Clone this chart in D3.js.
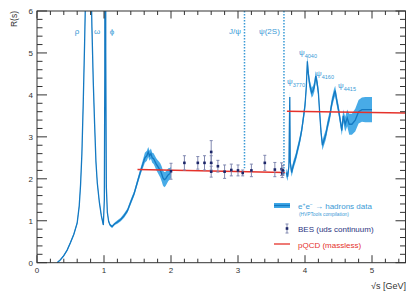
<!DOCTYPE html>
<html><head><meta charset="utf-8">
<script src="https://cdn.jsdelivr.net/npm/d3@7"></script>
<style>body{margin:0;background:#fff}svg{display:block;font-family:"Liberation Sans",Arial,sans-serif}</style>
</head><body><svg id="c" width="415" height="299"></svg>
<script>
// ---- data ----
const lowE = [0.30,0.35,0.40,0.45,0.50,0.55,0.60,0.63,0.65,0.67,0.69,0.71,0.73,0.755,0.775,0.782,0.79,0.80,0.82,0.84,0.86,0.88,0.90,0.93,0.96,0.99,1.005,1.012,1.019,1.026,1.035,1.05,1.07,1.09,1.12,1.16,1.20,1.25,1.30,1.35,1.40,1.45,1.50,1.55,1.58,1.61,1.64,1.66,1.68,1.70,1.72,1.74,1.76,1.78,1.80,1.82,1.84,1.86,1.88,1.90,1.92,1.94,1.96,1.98,2.00];
const lowR = [0.00,0.07,0.17,0.30,0.48,0.68,0.95,1.35,1.85,2.6,3.8,5.2,6.8,8.5,9.5,12,8.5,7.2,5.6,4.3,3.3,2.4,1.9,1.45,1.12,0.90,1.5,4.5,30,5,1.8,1.2,0.98,0.90,0.86,0.93,0.97,1.03,1.12,1.24,1.45,1.65,1.93,2.2,2.35,2.5,2.55,2.64,2.55,2.6,2.5,2.48,2.42,2.35,2.3,2.25,2.2,2.12,2.02,1.98,2.0,2.05,2.1,2.12,2.15];
const lowErr = [0.01,0.01,0.02,0.02,0.03,0.03,0.04,0.05,0.06,0.08,0.1,0.12,0.15,0.2,0.2,0.3,0.2,0.15,0.12,0.1,0.08,0.06,0.05,0.04,0.03,0.03,0.05,0.1,0.5,0.1,0.05,0.03,0.03,0.03,0.03,0.03,0.04,0.04,0.05,0.05,0.06,0.06,0.07,0.08,0.1,0.12,0.12,0.12,0.12,0.12,0.12,0.13,0.13,0.14,0.15,0.16,0.17,0.18,0.18,0.18,0.17,0.16,0.15,0.14,0.13];

const charmE = [3.72,3.74,3.76,3.765,3.773,3.78,3.80,3.83,3.86,3.89,3.92,3.95,3.98,4.00,4.02,4.035,4.05,4.07,4.10,4.12,4.14,4.16,4.18,4.20,4.22,4.24,4.26,4.28,4.31,4.34,4.37,4.40,4.43,4.45,4.47,4.50,4.53,4.55,4.57,4.60,4.63,4.66,4.70,4.75,4.80,4.85,4.90,5.00];
const charmR = [2.15,2.05,2.3,3.0,3.95,2.4,2.15,2.35,2.5,2.7,2.9,3.15,3.5,3.75,4.2,4.8,4.5,4.25,4.05,4.1,4.2,4.45,4.3,4.05,3.55,3.1,2.8,2.9,3.05,3.3,3.5,3.8,4.0,4.1,3.9,3.65,3.35,3.15,3.5,3.3,3.45,3.3,3.3,3.4,3.6,3.65,3.65,3.65];
const charmErr = [0.1,0.1,0.1,0.12,0.15,0.1,0.1,0.1,0.1,0.1,0.1,0.1,0.12,0.12,0.12,0.15,0.13,0.12,0.12,0.12,0.12,0.12,0.12,0.12,0.12,0.12,0.12,0.12,0.12,0.12,0.12,0.12,0.12,0.12,0.12,0.12,0.12,0.12,0.15,0.18,0.2,0.25,0.25,0.27,0.28,0.29,0.3,0.3];

const besE = [2.0,2.2,2.4,2.5,2.6,2.6,2.6,2.7,2.8,2.9,3.0,3.07,3.2,3.4,3.55,3.65,3.66,3.67];
const besR = [2.18,2.38,2.38,2.38,2.64,2.38,2.17,2.30,2.17,2.21,2.20,2.14,2.20,2.38,2.22,2.23,2.13,2.20];
const besErr = [0.19,0.17,0.15,0.17,0.27,0.17,0.13,0.14,0.16,0.14,0.13,0.07,0.15,0.18,0.17,0.15,0.1,0.12];

const pqcd1E = [1.5,3.7], pqcd1R = [2.22,2.15];
const pqcd2E = [3.73,5.5], pqcd2R = [3.61,3.57];

const resLow = [{t:"ρ",x:0.60},{t:"ω",x:0.89},{t:"ϕ",x:1.12}];
const xTicks = [0,1,2,3,4,5];
const yTicks = [0,1,2,3,4,5,6];

// ---- layout ----
const svg = d3.select("#c");
const L=37,R=405.5,T=11,B=262.7;
const x = d3.scaleLinear().domain([0,5.5]).range([L,R]);
const y = d3.scaleLinear().domain([0,6]).range([B,T]);
const blue="#1479c2", band="#3ea6e6", lbl="#3a9ad6", navy="#1d2668", red="#e5322b";

svg.append("clipPath").attr("id","cp").append("rect").attr("x",L).attr("y",T).attr("width",R-L).attr("height",B-T);
const g = svg.append("g").attr("clip-path","url(#cp)");

function drawBand(E,Rv,Er){
  const d = E.map((e,i)=>({e,r:Rv[i],s:Er[i]}));
  g.append("path").datum(d).attr("fill",band).attr("opacity",0.95)
   .attr("d",d3.area().x(p=>x(p.e)).y0(p=>y(p.r-p.s)).y1(p=>y(p.r+p.s)));
  g.append("path").datum(d).attr("fill","none").attr("stroke",blue).attr("stroke-width",1.3)
   .attr("d",d3.line().x(p=>x(p.e)).y(p=>y(p.r)));
}
drawBand(lowE,lowR,lowErr);
drawBand(charmE,charmR,charmErr);

// dotted resonance lines
[[3.097,2.25],[3.686,2.1]].forEach(([e,r])=>{
  svg.append("line").attr("x1",x(e)).attr("x2",x(e)).attr("y1",y(6)).attr("y2",y(r))
   .attr("stroke",lbl).attr("stroke-width",1.5).attr("stroke-dasharray","1.5,1.5");
});

// pQCD
[[pqcd1E,pqcd1R],[pqcd2E,pqcd2R]].forEach(([E,Rv])=>{
  g.append("path").datum(E.map((e,i)=>[e,Rv[i]])).attr("fill","none").attr("stroke",red).attr("stroke-width",1.6)
   .attr("d",d3.line().x(p=>x(p[0])).y(p=>y(p[1])));
});

// BES points
besE.forEach((e,i)=>{
  const cx=x(e), r=besR[i], s=besErr[i];
  svg.append("line").attr("x1",cx).attr("x2",cx).attr("y1",y(r-s)).attr("y2",y(r+s)).attr("stroke","#8088b0").attr("stroke-width",1);
  [r-s,r+s].forEach(v=>svg.append("line").attr("x1",cx-1.5).attr("x2",cx+1.5).attr("y1",y(v)).attr("y2",y(v)).attr("stroke","#8088b0").attr("stroke-width",1));
  svg.append("rect").attr("x",cx-1.3).attr("y",y(r)-1.3).attr("width",2.6).attr("height",2.6).attr("fill",navy);
});

// axes frame + ticks
svg.append("rect").attr("x",L).attr("y",T).attr("width",R-L).attr("height",B-T).attr("fill","none").attr("stroke","#333").attr("stroke-width",1);
const ax = svg.append("g").attr("stroke","#333").attr("stroke-width",1);
d3.range(0,5.5001,0.2).forEach(v=>{
  const major = Math.abs(v-Math.round(v))<1e-6, len = major?7.5:4, px=x(v);
  ax.append("line").attr("x1",px).attr("x2",px).attr("y1",B).attr("y2",B-len);
  ax.append("line").attr("x1",px).attr("x2",px).attr("y1",T).attr("y2",T+len);
});
d3.range(0,6.0001,0.2).forEach(v=>{
  const major = Math.abs(v-Math.round(v))<1e-6, len = major?10:5.5, py=y(v);
  ax.append("line").attr("x1",L).attr("x2",L+len).attr("y1",py).attr("y2",py);
  ax.append("line").attr("x1",R).attr("x2",R-len).attr("y1",py).attr("y2",py);
});
xTicks.forEach(v=>svg.append("text").attr("x",x(v)).attr("y",272.5).attr("text-anchor","middle").attr("font-size",8).attr("fill","#333").text(v));
yTicks.forEach(v=>svg.append("text").attr("x",33).attr("y",y(v)+3).attr("text-anchor","end").attr("font-size",8).attr("fill","#333").text(v));
svg.append("text").attr("transform","translate(16.5,11) rotate(-90)").attr("text-anchor","end").attr("font-size",8.5).attr("fill","#333").text("R(s)");
svg.append("text").attr("x",406).attr("y",289).attr("text-anchor","end").attr("font-size",9).attr("fill","#333").text("√s   [GeV]");

// resonance labels
const rl = svg.append("g").attr("fill",lbl).attr("font-size",8);
rl.append("text").attr("x",77).attr("y",34).attr("text-anchor","middle").text("ρ");
rl.append("text").attr("x",97).attr("y",34).attr("text-anchor","middle").text("ω");
rl.append("text").attr("x",112).attr("y",34).attr("text-anchor","middle").text("ϕ");
rl.append("text").attr("x",241).attr("y",34).attr("text-anchor","end").text("J/ψ");
rl.append("text").attr("x",259).attr("y",34).text("ψ(2S)");
[["3770",287,84],["4040",299,55],["4160",316,76],["4415",338,88]].forEach(([s,px,py])=>{
  const t=rl.append("text").attr("x",px).attr("y",py);
  t.append("tspan").text("ψ");
  t.append("tspan").attr("font-size",5.5).attr("dy",2.5).text(s);
});

// legend
svg.append("rect").attr("x",274).attr("y",203).attr("width",16).attr("height",5).attr("fill",band);
svg.append("line").attr("x1",274).attr("x2",290).attr("y1",205.5).attr("y2",205.5).attr("stroke",blue).attr("stroke-width",1.3);
const l1=svg.append("text").attr("x",298).attr("y",208.5).attr("font-size",8).attr("fill",lbl);
l1.append("tspan").text("e");
l1.append("tspan").attr("font-size",5).attr("dy",-3).text("+");
l1.append("tspan").attr("dy",3).text("e");
l1.append("tspan").attr("font-size",5).attr("dy",-3).text("−");
l1.append("tspan").attr("dy",3).text(" → hadrons data");
svg.append("text").attr("x",299).attr("y",215.5).attr("font-size",4.8).attr("fill",lbl).text("(HVPTools compilation)");
const lx=287;
svg.append("line").attr("x1",lx).attr("x2",lx).attr("y1",224).attr("y2",233).attr("stroke","#8088b0");
[224,233].forEach(v=>svg.append("line").attr("x1",lx-1.5).attr("x2",lx+1.5).attr("y1",v).attr("y2",v).attr("stroke","#8088b0"));
svg.append("rect").attr("x",lx-1.3).attr("y",227.2).attr("width",2.6).attr("height",2.6).attr("fill",navy);
svg.append("text").attr("x",298).attr("y",232).attr("font-size",8).attr("fill","#2b3380").text("BES (uds continuum)");
svg.append("line").attr("x1",274).attr("x2",290).attr("y1",244).attr("y2",244).attr("stroke",red).attr("stroke-width",1.3);
svg.append("text").attr("x",298).attr("y",247.5).attr("font-size",8).attr("fill",red).text("pQCD (massless)");
</script></body></html>
